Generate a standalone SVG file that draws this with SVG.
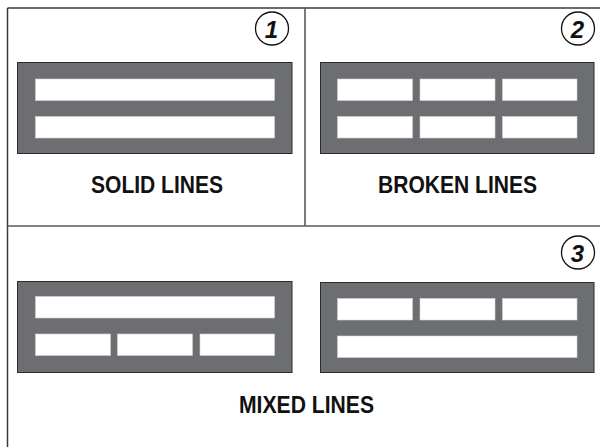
<svg xmlns="http://www.w3.org/2000/svg" width="600" height="447" viewBox="0 0 600 447">
<style>
.frame{stroke:#3a3a3a;stroke-width:1.5;fill:none}
.div{stroke:#5a5a5a;stroke-width:1.6;fill:none}
.box{fill:#6d6e71;stroke:#2b2b2b;stroke-width:1}
.bar{fill:#ffffff;stroke:#d4d4d4;stroke-width:0.6}
.badge{fill:#ffffff;stroke:#111;stroke-width:1.3}
.num{font-family:"Liberation Sans",Arial,sans-serif;font-weight:bold;font-style:italic;font-size:24px;fill:#111;text-anchor:middle}
.lbl{font-family:"Liberation Sans",Arial,sans-serif;font-weight:bold;font-size:23px;fill:#111;text-anchor:middle}
</style>
<rect width="600" height="447" fill="#ffffff"/>
<g id="frame">
<line class="frame" x1="7.5" y1="8" x2="600" y2="8"/>
<line class="frame" x1="7.5" y1="8" x2="7.5" y2="447"/>
<line class="div" x1="305" y1="8" x2="305" y2="226"/>
<line class="div" x1="7.5" y1="226" x2="600" y2="226"/>
</g>
<g id="panel1">
<circle class="badge" cx="272" cy="28.5" r="16.5"/>
<text class="num" x="271.5" y="37.5">1</text>
<rect class="box" x="17.5" y="62.5" width="274.5" height="91"/>
<rect class="bar" x="35.5" y="79" width="239" height="21.5"/>
<rect class="bar" x="35.5" y="116.5" width="239" height="21.5"/>
<text class="lbl" x="157" y="193" textLength="132" lengthAdjust="spacingAndGlyphs">SOLID LINES</text>
</g>
<g id="panel2">
<circle class="badge" cx="578" cy="28.5" r="16.5"/>
<text class="num" x="577.5" y="37.5">2</text>
<rect class="box" x="320.5" y="62.5" width="273.5" height="91"/>
<rect class="bar" x="337.5" y="79" width="75" height="21.5"/>
<rect class="bar" x="420" y="79" width="75" height="21.5"/>
<rect class="bar" x="502.5" y="79" width="74.5" height="21.5"/>
<rect class="bar" x="337.5" y="116.5" width="75" height="21.5"/>
<rect class="bar" x="420" y="116.5" width="75" height="21.5"/>
<rect class="bar" x="502.5" y="116.5" width="74.5" height="21.5"/>
<text class="lbl" x="457.5" y="193" textLength="159" lengthAdjust="spacingAndGlyphs">BROKEN LINES</text>
</g>
<g id="panel3">
<circle class="badge" cx="578" cy="252.5" r="16.5"/>
<text class="num" x="577.5" y="261.5">3</text>
<rect class="box" x="17.5" y="281.5" width="274.5" height="91"/>
<rect class="bar" x="35.5" y="296.5" width="239" height="21.5"/>
<rect class="bar" x="35.5" y="334" width="75" height="21.5"/>
<rect class="bar" x="117.5" y="334" width="75" height="21.5"/>
<rect class="bar" x="200" y="334" width="74.5" height="21.5"/>
<rect class="box" x="320.5" y="282.5" width="273.5" height="90"/>
<rect class="bar" x="337.5" y="298.5" width="75" height="21.5"/>
<rect class="bar" x="420" y="298.5" width="75" height="21.5"/>
<rect class="bar" x="502.5" y="298.5" width="74.5" height="21.5"/>
<rect class="bar" x="337.5" y="336" width="239.5" height="21.5"/>
<text class="lbl" x="306.5" y="413" textLength="135" lengthAdjust="spacingAndGlyphs">MIXED LINES</text>
</g>
</svg>
